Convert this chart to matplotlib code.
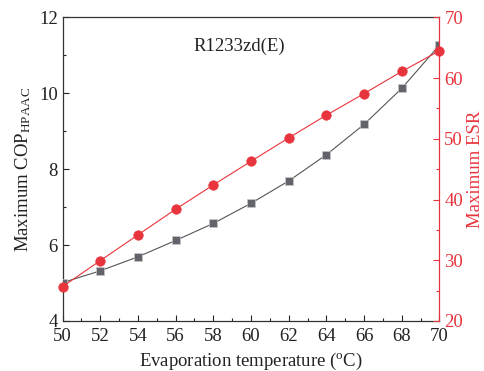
import matplotlib
matplotlib.use("Agg")
import matplotlib.pyplot as plt
from matplotlib.ticker import MultipleLocator

plt.rcParams['font.family'] = ['Liberation Serif', 'DejaVu Serif']
plt.rcParams['mathtext.fontset'] = 'custom'
plt.rcParams['mathtext.rm'] = 'Liberation Serif'
plt.rcParams['mathtext.it'] = 'Liberation Serif:italic'

# Evaporation temperature (oC)
evap_temp = [50, 52, 54, 56, 58, 60, 62, 64, 66, 68, 70]
# Maximum COP of the HPAAC system
max_cop = [5.01, 5.32, 5.69, 6.12, 6.57, 7.10, 7.69, 8.38, 9.18, 10.13, 11.27]
# Maximum energy saving ratio (%)
max_esr = [25.65, 29.93, 34.17, 38.4, 42.4, 46.3, 50.15, 53.9, 57.45, 61.1, 64.5]

GRAY = '#63636b'
RED = '#e8343c'
FS = 13.5

fig = plt.figure(figsize=(4.85, 3.71), dpi=100)
ax = fig.add_axes([0.129, 0.135, 0.777, 0.818])
ax2 = ax.twinx()

ax.plot(evap_temp, max_cop, color='#555555', lw=0.8, marker='s', ms=5.6,
        mfc=GRAY, mec='#c8c8c8', mew=0.5, zorder=3)
ax2.plot(evap_temp, max_esr, color=RED, lw=0.8, marker='o', ms=7,
         mfc=RED, mec=RED, mew=0.3, zorder=4, clip_on=False)

ax.set_xlim(50, 70)
ax.set_ylim(4, 12)
ax2.set_ylim(20, 70)

ax.xaxis.set_major_locator(MultipleLocator(2))
ax.xaxis.set_minor_locator(MultipleLocator(1))
ax.yaxis.set_major_locator(MultipleLocator(2))
ax.yaxis.set_minor_locator(MultipleLocator(1))
ax2.yaxis.set_major_locator(MultipleLocator(10))
ax2.yaxis.set_minor_locator(MultipleLocator(5))

ax.tick_params(axis='both', which='both', direction='in', top=False,
               right=False, labelsize=FS, colors='#222222')
ax.tick_params(axis='x', pad=5)
ax.tick_params(which='major', length=4, width=0.8)
ax.tick_params(which='minor', length=2.5, width=0.8)
ax2.tick_params(axis='y', which='both', direction='in', colors=RED,
                labelsize=FS)
ax2.tick_params(which='major', length=4, width=0.8)
ax2.tick_params(which='minor', length=2.5, width=0.8)

for side in ['left', 'bottom', 'top']:
    ax.spines[side].set_color('#333333')
    ax.spines[side].set_linewidth(0.9)
ax2.spines['right'].set_color(RED)
ax2.spines['right'].set_linewidth(0.9)
ax2.spines['left'].set_visible(False)
ax2.spines['top'].set_visible(False)
ax2.spines['bottom'].set_visible(False)
ax.spines['right'].set_visible(False)

ax.set_xlabel(r'Evaporation temperature ($^{\mathrm{o}}$C)', fontsize=FS,
              color='#222222', labelpad=4)
ax.set_ylabel(r'Maximum COP$_{\mathrm{HPAAC}}$', fontsize=FS,
              color='#222222', labelpad=4)
ax2.set_ylabel('Maximum ESR', fontsize=FS, color=RED, labelpad=3)

ax.text(0.47, 0.905, 'R1233zd(E)', transform=ax.transAxes, fontsize=FS,
        ha='center', va='center', color='#222222')

fig.savefig('out.png', dpi=100)
